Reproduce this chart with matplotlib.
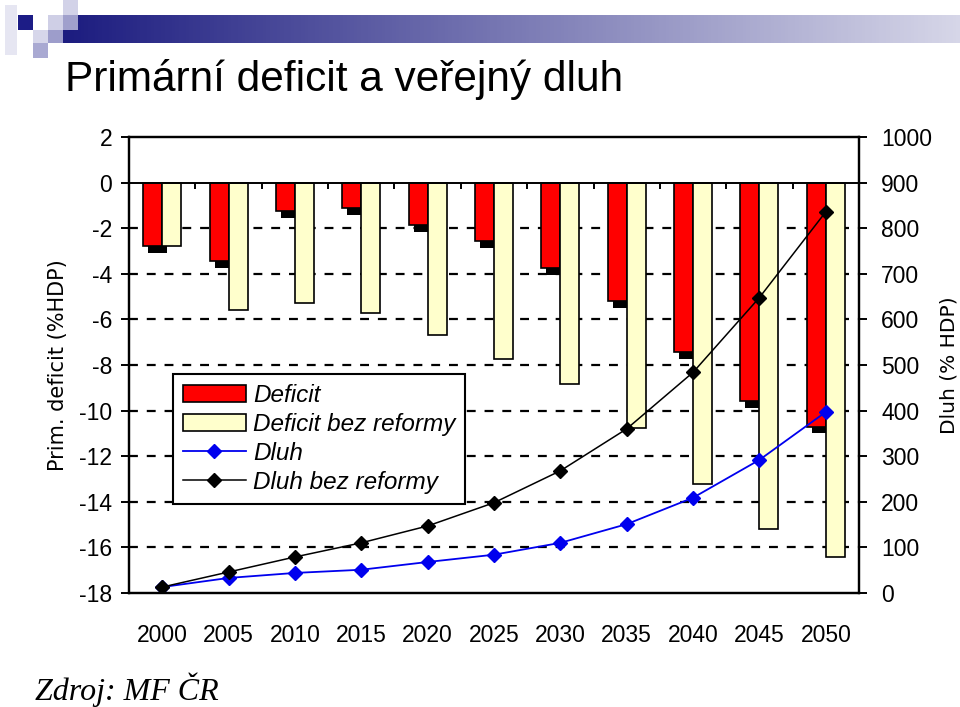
import numpy as np
import matplotlib
matplotlib.use("Agg")
import matplotlib.pyplot as plt
from matplotlib.patches import Rectangle, Patch
from matplotlib.lines import Line2D

plt.rcParams["axes.unicode_minus"] = False

years = ["2000", "2005", "2010", "2015", "2020", "2025", "2030", "2035", "2040", "2045", "2050"]
deficit = [-2.8, -3.45, -1.25, -1.1, -1.85, -2.55, -3.75, -5.2, -7.45, -9.6, -10.7]
deficit_bez = [-2.8, -5.6, -5.3, -5.7, -6.7, -7.75, -8.85, -10.75, -13.2, -15.2, -16.4]
dluh = [13, 33, 44, 51, 68, 84, 110, 151, 209, 292, 397]
dluh_bez = [13, 46, 79, 110, 147, 198, 268, 360, 484, 648, 836]

W, H = 960, 707
fig = plt.figure(figsize=(W / 100, H / 100), dpi=100)

# header decoration: squares + gradient bar
def frect(x0, y0, x1, y1, color):
    fig.patches.append(Rectangle((x0 / W, 1 - y1 / H), (x1 - x0) / W, (y1 - y0) / H,
                                 transform=fig.transFigure, color=color, lw=0, zorder=0))

frect(5, 5, 17, 55, "#e6e6f2")
frect(18, 15, 33, 30, "#1c1c86")
frect(33, 30, 48, 43, "#d6d6ea")
frect(33, 43, 48, 58, "#a9a9d2")
frect(48, 15, 63, 30, "#cfcfe6")
frect(48, 30, 63, 43, "#9d9dcb")
frect(63, 0, 78, 15, "#d2d2e8")
frect(63, 15, 78, 30, "#a0a0cc")
gax = fig.add_axes([63 / W, 1 - 43 / H, (W - 63) / W, 28 / H])
grad = np.linspace(0, 1, 256)
c0 = np.array([0.11, 0.11, 0.50])
c1 = np.array([0.84, 0.84, 0.91])
img = c0[None, :] * (1 - grad[:, None]) + c1[None, :] * grad[:, None]
gax.imshow(img[None, :, :], aspect="auto", extent=[0, 1, 0, 1])
gax.axis("off")

fig.text(65 / W, 1 - 79 / H, "Primární deficit a veřejný dluh", fontsize=30.5,
         family="Liberation Sans", va="center", ha="left")
fig.text(35 / W, 1 - 690 / H, "Zdroj: MF ČR", fontsize=23, family="Liberation Serif",
         style="italic", va="center", ha="left")

ax = fig.add_axes([129 / W, 1 - 593 / H, 730 / W, 456 / H])
x = np.arange(len(years))
bw = 0.286

# grid
for v in range(-16, 0, 2):
    ax.axhline(v, color="black", lw=1.6, ls=(0, (4, 4)), zorder=0)
ax.axhline(0, color="black", lw=1.4, zorder=3)

# black shadow under Deficit bars
ax.bar(x - bw / 2 + 0.075, [0.3] * len(x), bw, bottom=np.array(deficit) - 0.3,
       color="black", lw=0, zorder=1)
ax.bar(x - bw / 2, deficit, bw, color="#ff0000", edgecolor="black", lw=1.2, zorder=2)
ax.bar(x + bw / 2, deficit_bez, bw, color="#ffffcc", edgecolor="black", lw=1.2, zorder=2)

# category ticks on the zero line
ax.vlines(x[:-1] + 0.5, -0.3, 0, color="black", lw=1.4, zorder=3)

ax.set_xlim(-0.5, len(x) - 0.5)
ax.set_ylim(-18, 2)
ax.set_yticks(range(-18, 3, 2))
ax.set_xticks(x)
ax.set_xticklabels(years)
ax.tick_params(axis="x", length=0, pad=22, labelsize=16.5)
ax.tick_params(axis="y", length=6, width=1.4, labelsize=16.5, pad=6)
for s in ax.spines.values():
    s.set_linewidth(1.6)
ax.set_ylabel("Prim. deficit (%HDP)", fontsize=15, labelpad=8)

ax2 = ax.twinx()
ax2.set_ylim(0, 1000)
ax2.set_yticks(range(0, 1001, 100))
ax2.tick_params(axis="y", length=6, width=1.4, labelsize=16.5, pad=10)
ax2.plot(x, dluh, color="#0000ee", lw=1.3, marker="D", ms=7, mfc="#0000ee", mec="#0000ee")
ax2.plot(x, dluh_bez, color="black", lw=1.1, marker="D", ms=7, mfc="black", mec="black")
ax2.set_ylabel("Dluh (% HDP)", fontsize=14.5, labelpad=5)
for s in ax2.spines.values():
    s.set_linewidth(1.6)

for a in (ax, ax2):
    for lab in a.get_xticklabels() + a.get_yticklabels():
        lab.set_family("Liberation Sans")

handles = [
    Patch(facecolor="#ff0000", edgecolor="black", lw=1.2),
    Patch(facecolor="#ffffcc", edgecolor="black", lw=1.2),
    Line2D([], [], color="#0000ee", lw=1.3, marker="D", ms=7),
    Line2D([], [], color="black", lw=1.1, marker="D", ms=7),
]
labels = ["Deficit", "Deficit bez reformy", "Dluh", "Dluh bez reformy"]
leg = ax2.legend(handles, labels, loc="upper left", bbox_to_anchor=(173 / W, 1 - 374 / H),
                 bbox_transform=fig.transFigure, fancybox=False, framealpha=1,
                 edgecolor="black", handlelength=2.6, handleheight=0.7, labelspacing=0.25,
                 borderpad=0.4, handletextpad=0.3, borderaxespad=0,
                 prop={"family": "Liberation Sans", "style": "italic", "size": 17.5})
leg.get_frame().set_linewidth(1.5)
leg.set_zorder(10)

fig.savefig("out.png", dpi=100)
